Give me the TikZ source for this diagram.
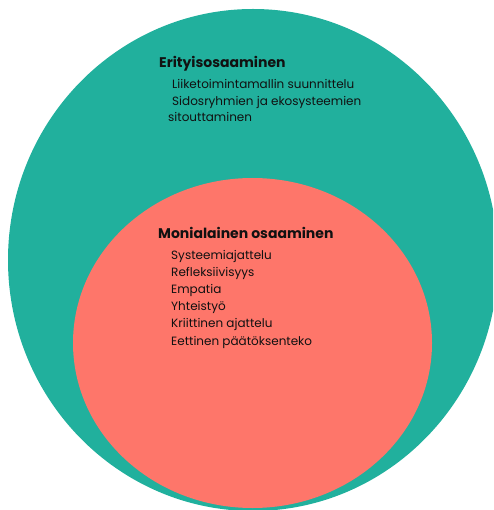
\documentclass[tikz,border=0pt]{standalone}
\usepackage{fontspec}
\setmainfont{Poppins}
\definecolor{teal}{HTML}{21B09D}
\definecolor{salmon}{HTML}{FE766A}
\definecolor{ink}{HTML}{111111}
\tikzset{
  title/.style={anchor=base west, inner sep=0pt, text=ink, font=\fontsize{14}{16}\selectfont\bfseries},
  item/.style={anchor=base west, inner sep=0pt, text=ink, font=\fontsize{12}{14}\selectfont},
}
\begin{document}
\begin{tikzpicture}[x=1pt,y=-1pt]
\useasboundingbox (0,0) rectangle (493,510);
\begin{scope}
\clip (0,0) rectangle (493,510);
\fill[teal] (253,260) ellipse [x radius=245, y radius=251];
\fill[salmon] (252.5,343) ellipse [x radius=179.5, y radius=165];
\end{scope}
\node[title] (t1) at (159,68) {Erityisosaaminen};
\node[item] (a1) at (172,89) {Liiketoimintamallin suunnittelu};
\node[item] (a2) at (172,106) {Sidosryhmien ja ekosysteemien};
\node[item] (a3) at (168,122) {sitouttaminen};
\node[title] (t2) at (158,238) {Monialainen osaaminen};
\node[item] (b1) at (171,259.3) {Systeemiajattelu};
\node[item] (b2) at (171,276.5) {Refleksiivisyys};
\node[item] (b3) at (171,293.6) {Empatia};
\node[item] (b4) at (171,310.7) {Yhteistyö};
\node[item] (b5) at (171,327.8) {Kriittinen ajattelu};
\node[item] (b6) at (171,345) {Eettinen päätöksenteko};
\end{tikzpicture}
\end{document}
